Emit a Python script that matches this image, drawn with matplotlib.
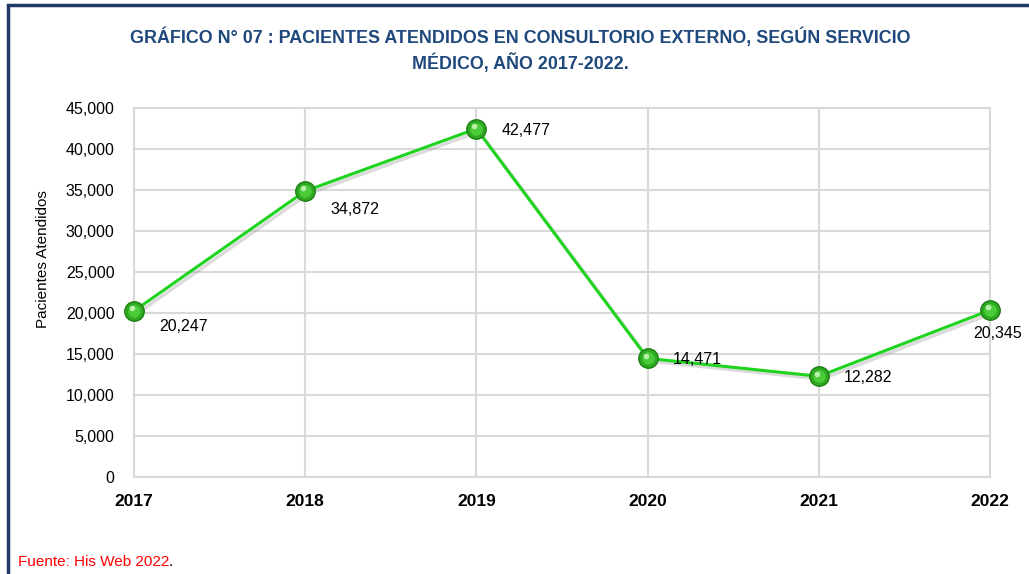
import matplotlib
matplotlib.use("Agg")
import matplotlib.pyplot as plt
from matplotlib.patches import Rectangle
from matplotlib.ticker import FuncFormatter, MultipleLocator

years = [2017, 2018, 2019, 2020, 2021, 2022]
patients = [20247, 34872, 42477, 14471, 12282, 20345]
label_offsets = [(18, -11), (18, -13), (18, -1), (18, -1), (18, -1), (-12, -17)]
title = "GRÁFICO N° 07 : PACIENTES ATENDIDOS EN CONSULTORIO EXTERNO, SEGÚN SERVICIO\nMÉDICO, AÑO 2017-2022."

plt.rcParams['font.family'] = ['Liberation Sans', 'DejaVu Sans']

fig = plt.figure(figsize=(10.29, 5.74), dpi=100)
ax = fig.add_axes([134/1029, 1-477/574, (990-134)/1029, (477-108)/574])

grid_c = '#D9D9D9'
ax.set_xlim(years[0], years[-1])
ax.set_ylim(0, 45000)
ax.yaxis.set_major_locator(MultipleLocator(5000))
ax.set_xticks(years)
ax.yaxis.set_major_formatter(FuncFormatter(lambda v, p: f"{int(v):,}"))
ax.grid(True, color=grid_c, lw=1.5)
ax.set_axisbelow(True)
for s in ax.spines.values():
    s.set_color(grid_c)
    s.set_linewidth(1.5)
ax.tick_params(axis='both', length=0)
ax.tick_params(axis='y', labelsize=11.5, pad=14)
ax.tick_params(axis='x', labelsize=12.5, pad=12)
for t in ax.get_xticklabels():
    t.set_fontweight('bold')
ax.set_ylabel("Pacientes Atendidos", fontsize=11)
ax.yaxis.set_label_coords((50-134)/856, (477-259)/369)

# shadow
ax.plot(years, patients, color='#999999', lw=2.5, alpha=0.35, zorder=2,
        transform=ax.transData + matplotlib.transforms.ScaledTranslation(2/72, -2/72, fig.dpi_scale_trans))
ax.plot(years, patients, color='#1ED41E', lw=2.2, zorder=3, clip_on=False)
ax.plot(years, patients, 'o', ms=14, mfc='#2EAA22', mec='#1F7F15', mew=1, zorder=4, clip_on=False)
ax.plot(years, patients, 'o', ms=9, mfc='#4CCB3A', mec='none', zorder=5, clip_on=False)
ax.plot(years, patients, 'o', ms=4, mfc='#B8F0A8', mec='none', zorder=6, clip_on=False,
        transform=ax.transData + matplotlib.transforms.ScaledTranslation(-1.5/72, 2/72, fig.dpi_scale_trans))

for x, y, (dx, dy) in zip(years, patients, label_offsets):
    ax.annotate(f"{y:,}", (x, y), xytext=(dx, dy), textcoords='offset points',
                ha='left', va='center', fontsize=11.5, color='#000000', zorder=7)

fig.text(520/1029, 1-50/574, title, ha='center', va='center', fontsize=12.9, fontweight='bold',
         color='#1F497D', linespacing=1.4)

fig.text(18/1029, 1-562/574, "Fuente: His Web 2022", color='#FF0000', fontsize=11, ha='left', va='center')
fig.text(169/1029, 1-562/574, ".", color='#000000', fontsize=11, ha='left', va='center')

# border
fig.patches.append(Rectangle((7.5/1029, -0.1), 1.2, 1 - 4.5/574 + 0.1, transform=fig.transFigure,
                             fill=False, ec='#1F3864', lw=2.5))

fig.savefig("out.png", dpi=100)
